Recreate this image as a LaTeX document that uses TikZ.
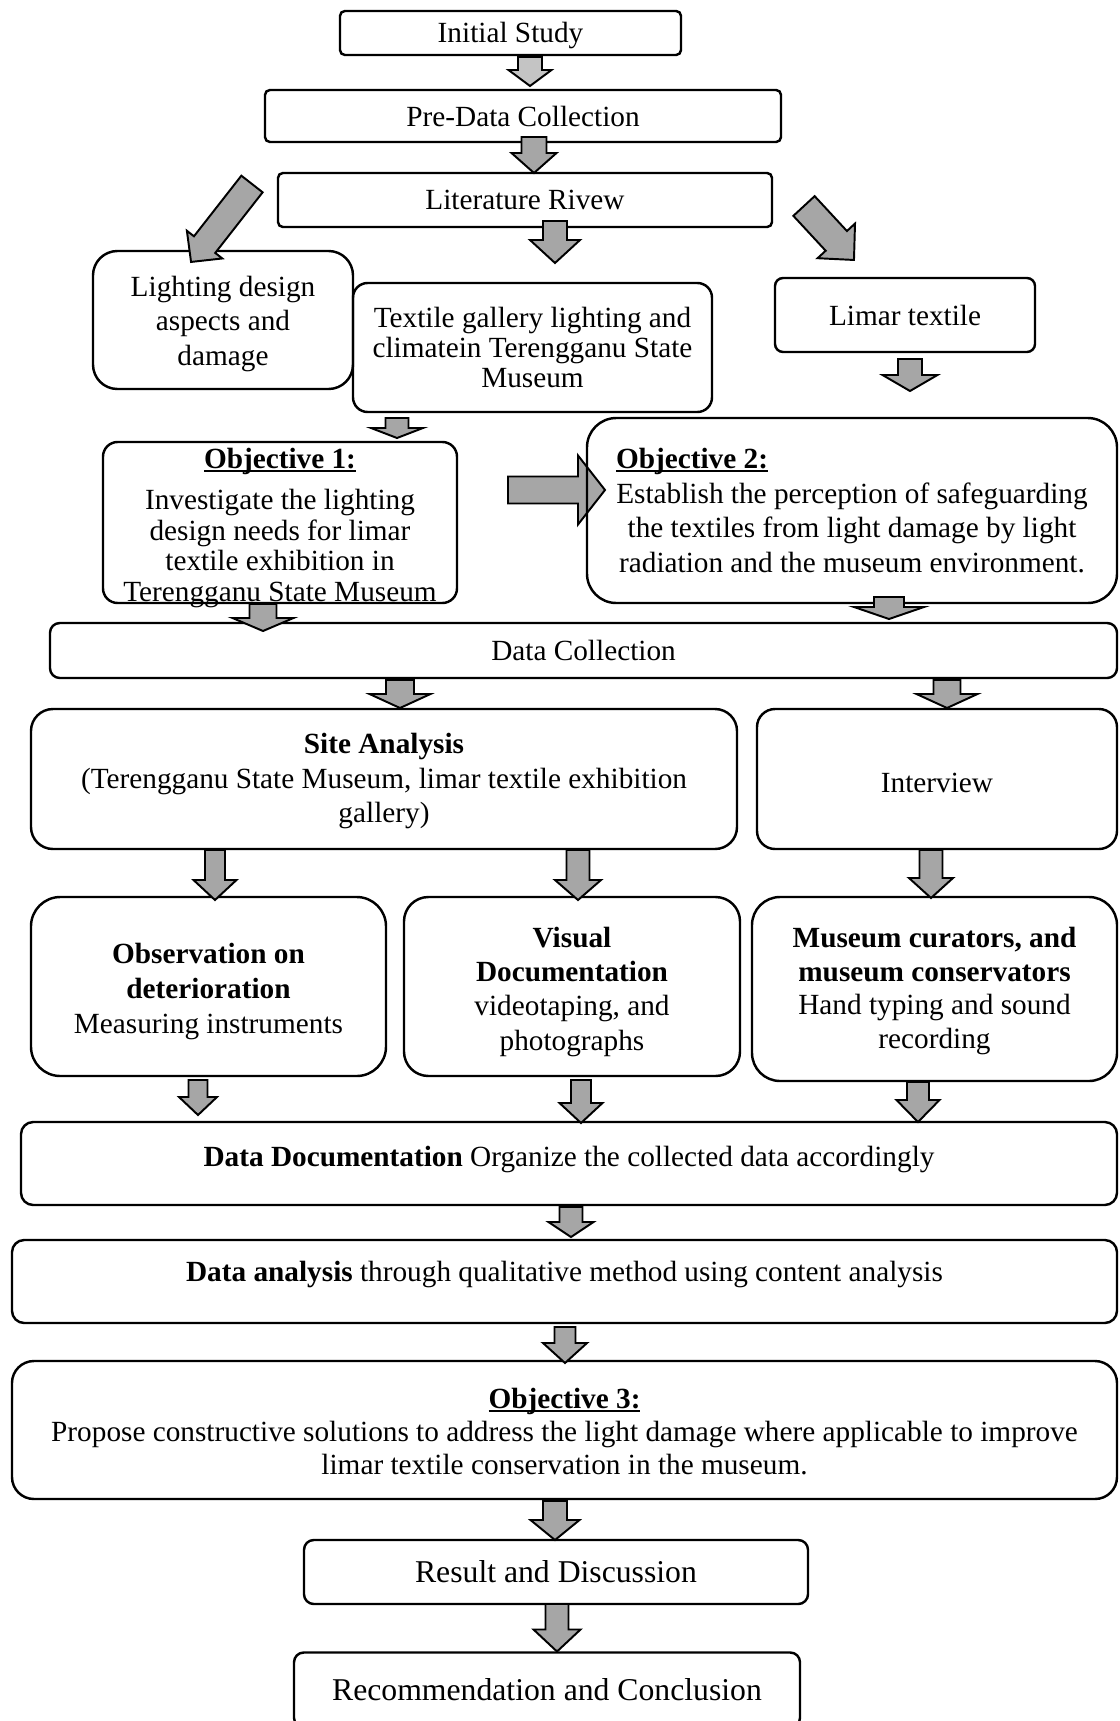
\documentclass[tikz,border=0pt]{standalone}
\usepackage{fontspec}
\setmainfont{Liberation Serif}
\usetikzlibrary{calc}
\pgfdeclarelayer{bg}
\pgfsetlayers{bg,main}
\definecolor{arrowgray}{HTML}{A6A6A6}
\definecolor{arrowlight}{HTML}{C4C4C4}
\newcommand\myfs[2]{\fontsize{#1}{#2}\selectfont}
% bold heading with a close underline that does not change the line's size
\newcommand\ulhead[1]{\setbox0\hbox{\textbf{#1}}\rlap{\rule[-1.4pt]{\wd0}{0.8pt}}\box0}
% block arrow: [fill] {start} {tip} {shaft width} {head width} {head length}  (widths in px)
\newcommand\blockarr[6][arrowgray]{%
  \path let \p1=#2, \p2=#3 in \pgfextra{%
    \pgfmathsetmacro\baang{atan2((\y2)-(\y1),(\x2)-(\x1))}%
    \pgfmathsetmacro\balen{veclen((\x2)-(\x1),(\y2)-(\y1))}%
    \xdef\baang{\baang}\xdef\balen{\balen}\xdef\bax{\x1}\xdef\bay{\y1}};
  \draw[arrowline, fill=#1, shift={(\bax,\bay)}, rotate=\baang]
    (0pt,{#4*0.205pt}) -- ({\balen pt-#6*0.41pt},{#4*0.205pt})
    -- ({\balen pt-#6*0.41pt},{#5*0.205pt}) -- (\balen pt,0pt)
    -- ({\balen pt-#6*0.41pt},{-#5*0.205pt}) -- ({\balen pt-#6*0.41pt},{-#4*0.205pt})
    -- (0pt,{-#4*0.205pt}) -- cycle;
}
\tikzset{
  bx/.style n args={3}{draw, line width=1pt, rounded corners=#3,
    minimum width=#1*0.41pt, minimum height=#2*0.41pt,
    inner sep=0pt, outer sep=0pt, align=center, font=\myfs{12}{14}},
  txt/.style={inner sep=0pt, align=center, font=\myfs{12}{14}},
  arrowline/.style={draw=black, line width=0.8pt, line join=miter},
}
\begin{document}
\begin{tikzpicture}[x=0.41pt, y=-0.41pt]
\useasboundingbox (0,0) rectangle (1119,1721);

% ---- boxes ----
\node[bx={341}{44}{2pt}, text depth=0.5pt] (initial) at (510.5,33) {Initial Study};
\node[bx={516}{52}{2pt}] (pre) at (523,116) {Pre-Data Collection};
\node[bx={494}{54}{2pt}] (lit) at (525,200) {Literature Rivew};
\node[bx={260}{138}{10pt}, font=\myfs{12}{14}] (light) at (223,320)
  {\rule{0pt}{11.5pt}Lighting design\\aspects and\\damage};
\node[bx={359}{129}{6pt}, font=\myfs{12}{12.2}] (textile) at (532.5,347.5)
  {Textile gallery lighting and\\climatein Terengganu State\\Museum};
\node[bx={260}{74}{3.3pt}] (limar) at (905,315) {Limar textile};
\node[bx={354}{161}{6pt}] (obj1) at (280,522.5) {};
\node[txt, font=\myfs{12}{12.5}] (obj1text) at ($(obj1.center)+(0,5.5)$)
  {\ulhead{Objective 1:}\\[4.3pt]Investigate the lighting\\design needs for limar\\textile exhibition in\\Terengganu State Museum};
\node[bx={530}{185}{12pt}, font=\myfs{12}{14.1}] (obj2) at (852,510.5)
  {\makebox[193.5pt][l]{\ulhead{Objective 2:}}\\Establish the perception of safeguarding\\the textiles from light damage by light\\radiation and the museum environment.};
\node[bx={1067}{55}{4pt}] (dc) at (583.5,650.5) {Data Collection};
\node[bx={706}{140}{9pt}] (site) at (384,779)
  {\rule{0pt}{10pt}\textbf{Site Analysis}\\(Terengganu State Museum, limar textile exhibition\\gallery)};
\node[bx={360}{140}{7.4pt}, text height=11pt] (interview) at (937,779) {Interview};
\node[bx={355}{179}{12pt}, font=\myfs{12}{14.3}] (obs) at (208.5,986.5)
  {\rule{0pt}{12.2pt}\textbf{Observation on}\\\textbf{deterioration}\\Measuring instruments};
\node[bx={336}{179}{10pt}] (visual) at (572,986.5)
  {\rule{0pt}{12.7pt}\textbf{Visual}\\\textbf{Documentation}\\videotaping, and\\photographs};
\node[bx={365}{184}{11.5pt}, font=\myfs{12}{13.8}] (museum) at (934.5,989)
  {\rule{0pt}{10pt}\textbf{Museum curators, and}\\\textbf{museum conservators}\\Hand typing and sound\\recording};
\node[bx={1096}{83}{5pt}, text depth=5.7pt] (dd) at (569,1163.5)
  {\textbf{Data Documentation} Organize the collected data accordingly};
\node[bx={1105}{83}{5pt}, text depth=8.3pt] (da) at (564.5,1281.5)
  {\textbf{Data analysis} through qualitative method using content analysis};
\node[bx={1105}{138}{9pt}, font=\myfs{12}{13.6}] (obj3) at (564.5,1430)
  {\rule{0pt}{9.5pt}\ulhead{Objective 3:}\\Propose constructive solutions to address the light damage where applicable to improve\\limar textile conservation in the museum.};
\node[bx={504}{64}{4pt}, font=\myfs{13}{15}] (res) at (556,1572) {Result and Discussion};
\node[bx={506}{75}{4pt}, font=\myfs{13}{15}] (rec) at (547,1690) {Recommendation and Conclusion};

% ---- block arrows ----
\blockarr[arrowlight]{($(initial.south -| 530,0)+(0,2)$)}{($(pre.north -| 530,0)+(0,-4)$)}{24}{43}{16}
\blockarr{($(pre.south -| 534,0)+(0,-5)$)}{(lit.north -| 534,0)}{25}{45}{20}
\blockarr{($(lit.south -| 555,0)+(0,-6)$)}{($(textile.north -| 555,0)+(0,-20)$)}{24}{50}{23}
\blockarr{($(lit.west)+(-26,-16)$)}{($(light.north)+(-32,11)$)}{27}{45}{22}
\blockarr{($(lit.east)+(32,6)$)}{($(limar.north)+(-51,-18)$)}{29}{51}{26}
\blockarr{($(limar.south -| 910,0)+(0,7)$)}{($(obj2.north -| 910,0)+(0,-27)$)}{24}{55}{16}
\blockarr{($(textile.south -| 397,0)+(0,6)$)}{($(obj1.north -| 397,0)+(0,-4)$)}{23}{52}{10}
\begin{pgfonlayer}{bg}
\blockarr{($(obj1.east)+(51,-32.5)$)}{($(obj2.west)+(18,-20.5)$)}{27}{69}{27}
\end{pgfonlayer}
\blockarr{($(obj1.south -| 263,0)+(0,1)$)}{($(dc.north -| 263,0)+(0,8)$)}{27}{61}{13}
\blockarr{($(obj2.south -| 889,0)+(0,-6)$)}{($(dc.north -| 889,0)+(0,-4)$)}{30}{70}{12}
\blockarr{($(dc.south -| 400,0)+(0,2)$)}{($(site.north -| 400,0)+(0,-1)$)}{28}{61}{14}
\blockarr{($(dc.south -| 947,0)+(0,2)$)}{($(interview.north -| 947,0)+(0,-1)$)}{27}{61}{14}
\blockarr{($(site.south -| 215,0)+(0,1)$)}{($(obs.north -| 215,0)+(0,3)$)}{20}{43}{20}
\blockarr{($(site.south -| 578,0)+(0,1)$)}{($(visual.north -| 578,0)+(0,3)$)}{23}{46}{20}
\blockarr{($(interview.south -| 931,0)+(0,1)$)}{($(museum.north -| 931,0)+(0,1)$)}{23}{44}{20}
\blockarr{($(obs.south -| 198,0)+(0,4)$)}{($(dd.north -| 198,0)+(0,-7)$)}{19}{38}{18}
\blockarr{($(visual.south -| 581,0)+(0,4)$)}{($(dd.north -| 581,0)+(0,1)$)}{20}{43}{20}
\blockarr{($(museum.south -| 918,0)+(0,1)$)}{(dd.north -| 918,0)}{22}{43}{22}
\blockarr{($(dd.south -| 571,0)+(0,2)$)}{($(da.north -| 571,0)+(0,-3)$)}{23}{45}{15}
\blockarr{($(da.south -| 565,0)+(0,4)$)}{($(obj3.north -| 565,0)+(0,2)$)}{21}{44}{20}
\blockarr{($(obj3.south -| 555,0)+(0,2)$)}{(res.north -| 555,0)}{24}{49}{20}
\blockarr{(res.south -| 557,0)}{($(rec.north -| 557,0)+(0,-1)$)}{23}{47}{22}
\end{tikzpicture}
\end{document}
